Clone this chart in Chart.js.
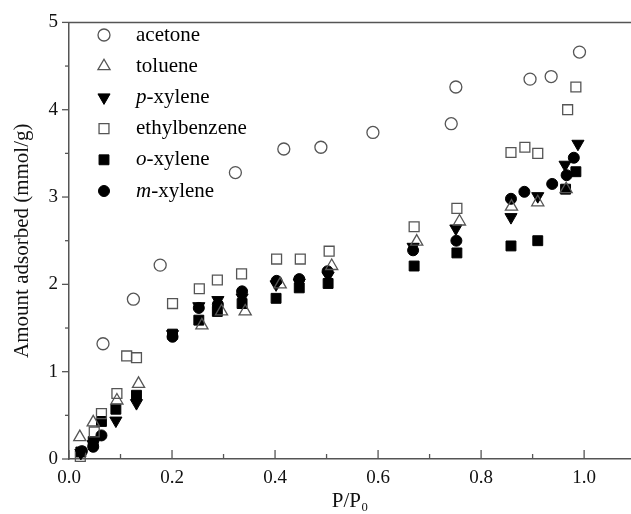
<!DOCTYPE html>
<html>
<head>
<meta charset="utf-8">
<script src="https://cdn.jsdelivr.net/npm/chart.js@4/dist/chart.umd.min.js"></script>
<style>
  html, body { margin: 0; padding: 0; background: #fff; overflow: hidden; }
  #wrap { width: 631px; height: 514px; }
  canvas { display: block; }
</style>
</head>
<body>
<div id="wrap"><canvas id="chart" width="631" height="514"></canvas></div>
<script>
// values
const acetoneX = [0.066, 0.125, 0.177, 0.323, 0.417, 0.489, 0.590, 0.742, 0.751, 0.895, 0.936, 0.991];
const acetoneY = [1.32, 1.83, 2.22, 3.28, 3.55, 3.57, 3.74, 3.84, 4.26, 4.35, 4.38, 4.66];

const tolueneX = [0.021, 0.047, 0.093, 0.135, 0.258, 0.296, 0.342, 0.410, 0.510, 0.675, 0.758, 0.859, 0.910, 0.965];
const tolueneY = [0.25, 0.42, 0.67, 0.86, 1.53, 1.69, 1.69, 2.00, 2.21, 2.49, 2.72, 2.89, 2.94, 3.09];

const pXyleneX = [0.023, 0.047, 0.091, 0.131, 0.201, 0.252, 0.289, 0.336, 0.402, 0.447, 0.503, 0.668, 0.751, 0.858, 0.910, 0.963, 0.988];
const pXyleneY = [0.07, 0.17, 0.44, 0.64, 1.43, 1.75, 1.82, 1.85, 2.00, 2.02, 2.10, 2.43, 2.64, 2.77, 3.01, 3.37, 3.61];

const ethylbenzeneX = [0.022, 0.049, 0.063, 0.093, 0.112, 0.131, 0.201, 0.253, 0.288, 0.335, 0.403, 0.449, 0.505, 0.670, 0.753, 0.858, 0.885, 0.910, 0.968, 0.984];
const ethylbenzeneY = [0.03, 0.31, 0.52, 0.75, 1.18, 1.16, 1.78, 1.95, 2.05, 2.12, 2.29, 2.29, 2.38, 2.66, 2.87, 3.51, 3.57, 3.50, 4.00, 4.26];

const oXyleneX = [0.023, 0.047, 0.063, 0.091, 0.131, 0.201, 0.252, 0.288, 0.336, 0.402, 0.447, 0.503, 0.670, 0.753, 0.858, 0.910, 0.964, 0.984];
const oXyleneY = [0.08, 0.20, 0.43, 0.57, 0.73, 1.43, 1.59, 1.69, 1.78, 1.84, 1.96, 2.01, 2.21, 2.36, 2.44, 2.50, 3.09, 3.29];

const mXyleneX = [0.025, 0.047, 0.063, 0.201, 0.252, 0.289, 0.336, 0.403, 0.447, 0.502, 0.668, 0.752, 0.858, 0.884, 0.938, 0.966, 0.980];
const mXyleneY = [0.09, 0.14, 0.27, 1.40, 1.73, 1.77, 1.92, 2.04, 2.06, 2.15, 2.39, 2.50, 2.98, 3.06, 3.15, 3.25, 3.45];

// tick positions (major + minor) and labels
const xTickValues = [0, 0.1, 0.2, 0.3, 0.4, 0.5, 0.6, 0.7, 0.8, 0.9, 1.0];
const xTickLabels = ['0.0', '', '0.2', '', '0.4', '', '0.6', '', '0.8', '', '1.0'];
const yTickValues = [0, 0.5, 1, 1.5, 2, 2.5, 3, 3.5, 4, 4.5, 5];
const yTickLabels = ['0', '', '1', '', '2', '', '3', '', '4', '', '5'];

const serif = '"Liberation Serif", "DejaVu Serif", serif';
const grey = '#555';

function pts(xs, ys) {
  return xs.map((x, i) => ({ x: x, y: ys[i] }));
}

// legend entries: italic prefix + rest of label
const series = [
  { pre: '', name: 'acetone', data: pts(acetoneX, acetoneY), style: 'circle', r: 6, rot: 0, fill: false },
  { pre: '', name: 'toluene', data: pts(tolueneX, tolueneY), style: 'triangle', r: 7, rot: 0, fill: false },
  { pre: 'p', name: '-xylene', data: pts(pXyleneX, pXyleneY), style: 'triangle', r: 7, rot: 180, fill: true },
  { pre: '', name: 'ethylbenzene', data: pts(ethylbenzeneX, ethylbenzeneY), style: 'rect', r: 7, rot: 0, fill: false },
  { pre: 'o', name: '-xylene', data: pts(oXyleneX, oXyleneY), style: 'rect', r: 7, rot: 0, fill: true },
  { pre: 'm', name: '-xylene', data: pts(mXyleneX, mXyleneY), style: 'circle', r: 5.5, rot: 0, fill: true }
];

function pointOpts(s) {
  return {
    pointStyle: s.style,
    radius: s.r,
    rotation: s.rot,
    borderWidth: s.fill ? 1 : 1.3,
    borderColor: s.fill ? '#000' : grey,
    backgroundColor: s.fill ? '#000' : 'rgba(255,255,255,0)'
  };
}

// tick marks (x inward, y outward) and top frame line
const frame = {
  id: 'frame',
  afterDraw(chart) {
    const { ctx, chartArea: a, scales: { x, y } } = chart;
    ctx.save();
    ctx.strokeStyle = grey;
    ctx.lineWidth = 1.5;
    ctx.beginPath();
    ctx.moveTo(a.left, a.top);
    ctx.lineTo(a.right, a.top);
    ctx.stroke();
    ctx.lineWidth = 1.3;
    x.ticks.forEach((t, i) => {
      const px = x.getPixelForValue(t.value);
      const len = xTickLabels[i] ? 9 : 5;
      ctx.beginPath();
      ctx.moveTo(px, a.bottom);
      ctx.lineTo(px, a.bottom - len);
      ctx.stroke();
    });
    y.ticks.forEach((t, i) => {
      const py = y.getPixelForValue(t.value);
      const len = yTickLabels[i] ? 7 : 4;
      ctx.beginPath();
      ctx.moveTo(a.left, py);
      ctx.lineTo(a.left - len, py);
      ctx.stroke();
    });
    ctx.restore();
  }
};

// legend inside the plot, with italic prefixes
const legendBox = {
  id: 'legendBox',
  afterDraw(chart) {
    const ctx = chart.ctx;
    const mx = 104, tx = 136, y0 = 35, step = 31.2;
    ctx.save();
    ctx.textBaseline = 'middle';
    series.forEach((s, i) => {
      const y = y0 + i * step;
      const o = pointOpts(s);
      ctx.lineWidth = o.borderWidth;
      ctx.strokeStyle = o.borderColor;
      ctx.fillStyle = o.backgroundColor;
      Chart.helpers.drawPoint(ctx, o, mx, y);
      ctx.fillStyle = '#000';
      let x = tx;
      if (s.pre) {
        ctx.font = 'italic 21px ' + serif;
        ctx.fillText(s.pre, x, y);
        x += ctx.measureText(s.pre).width;
      }
      ctx.font = '21px ' + serif;
      ctx.fillText(s.name, x, y);
    });
    ctx.restore();
  }
};

new Chart(document.getElementById('chart'), {
  type: 'scatter',
  data: {
    datasets: series.map(s => Object.assign({
      label: s.pre + s.name,
      data: s.data,
      clip: false
    }, pointOpts(s)))
  },
  options: {
    responsive: false,
    animation: false,
    devicePixelRatio: 1,
    layout: { autoPadding: false, padding: { top: 19, right: 0, left: 0, bottom: 0 } },
    plugins: {
      legend: { display: false },
      tooltip: { enabled: false }
    },
    scales: {
      x: {
        type: 'linear',
        min: 0,
        max: 1.091,
        afterFit: s => { s.height = 55; s.paddingLeft = 0; s.paddingRight = 0; },
        afterBuildTicks: s => { s.ticks = xTickValues.map(v => ({ value: v })); },
        grid: { display: false, drawTicks: false },
        border: { display: true, color: grey, width: 1.5 },
        ticks: {
          autoSkip: false,
          maxRotation: 0,
          padding: 8,
          color: '#111',
          font: { family: serif, size: 19 },
          callback: (v, i) => xTickLabels[i]
        },
        title: {
          display: true,
          text: 'P/P\u2080',
          color: '#111',
          font: { family: serif, size: 21 },
          padding: { top: 3, bottom: 0 }
        }
      },
      y: {
        type: 'linear',
        min: 0,
        max: 5,
        afterFit: s => { s.width = 69; },
        afterBuildTicks: s => { s.ticks = yTickValues.map(v => ({ value: v })); },
        grid: { display: false, drawTicks: false },
        border: { display: true, color: grey, width: 1.5 },
        ticks: {
          autoSkip: false,
          padding: 11,
          color: '#111',
          font: { family: serif, size: 19 },
          callback: (v, i) => yTickLabels[i]
        },
        title: {
          display: true,
          text: 'Amount adsorbed (mmol/g)',
          color: '#111',
          font: { family: serif, size: 21 },
          padding: { top: 10, bottom: 0 }
        }
      }
    }
  },
  plugins: [frame, legendBox]
});
</script>
</body>
</html>
